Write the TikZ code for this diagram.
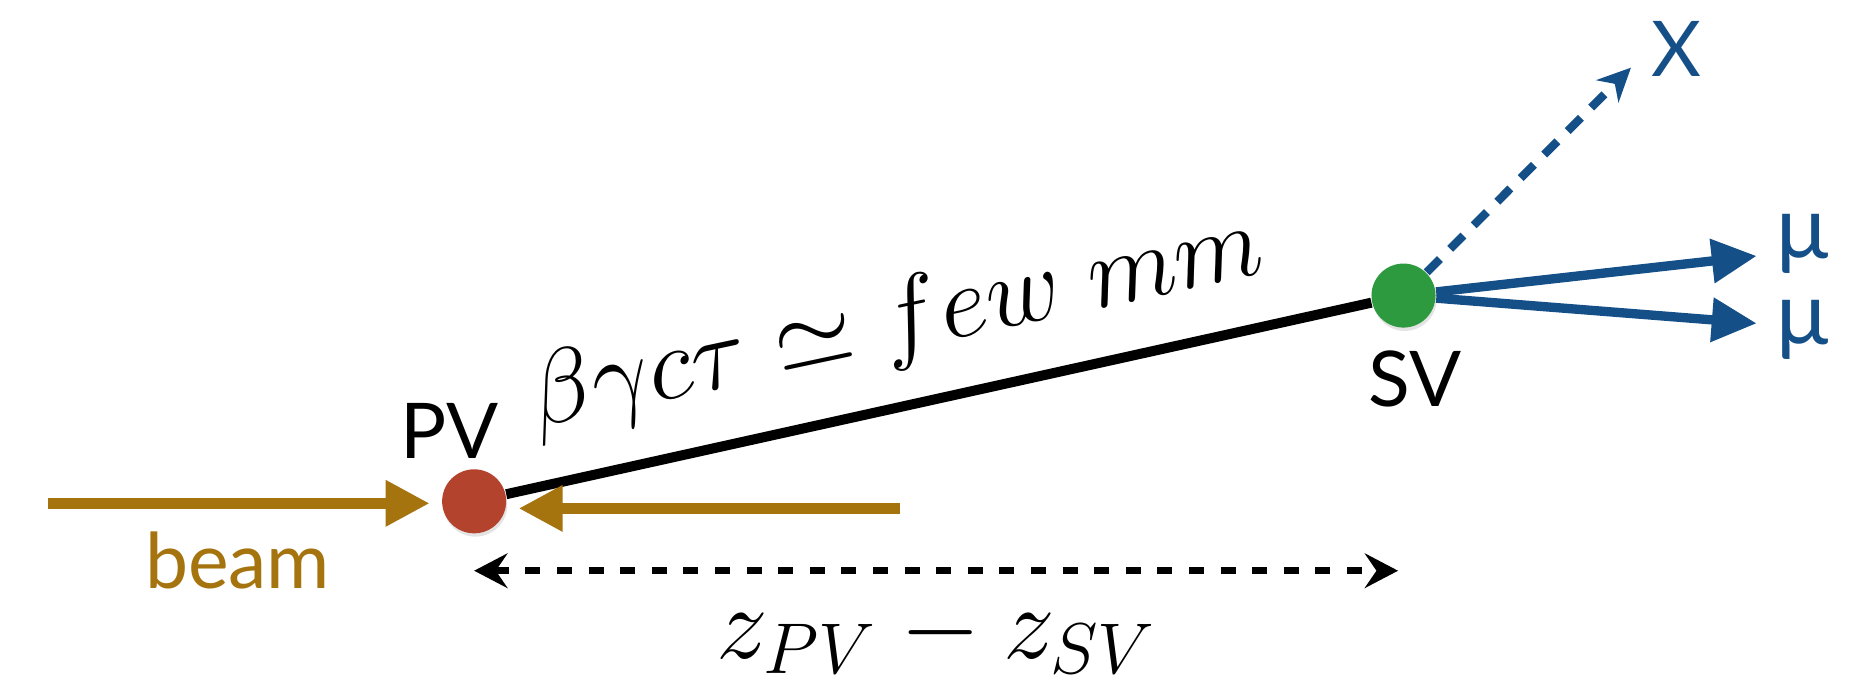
\documentclass[tikz,border=0pt]{standalone}
\usepackage{fontspec}
\setsansfont{Lato}
\usetikzlibrary{arrows.meta, positioning, shadows}
\definecolor{beamGold}{HTML}{A5740F}
\definecolor{pvRed}{HTML}{B4432E}
\definecolor{svGreen}{HTML}{2E9A3F}
\definecolor{decayBlue}{HTML}{154F88}

\tikzset{
  vtx/.style={circle, inner sep=0pt, minimum size=15.4pt,
    drop shadow={shadow xshift=0.3pt, shadow yshift=-0.8pt, fill=black!35, opacity=0.3}},
  lbl/.style={inner sep=0pt, anchor=base, font=\sffamily\fontsize{18.5}{22}\selectfont},
  beamarrow/.style={beamGold, line width=2.6pt, -{Triangle[length=10.6pt, width=10.5pt]}},
  muarrow/.style={decayBlue, line width=2.25pt, -{Triangle[length=10.8pt, width=10.2pt]}},
  xarrow/.style={decayBlue, line width=2pt, dash pattern=on 4.5pt off 3.5pt,
    -{Stealth[length=8pt, width=7.5pt, inset=2.5pt]}},
  zarrow/.style={line width=1.7pt, dash pattern=on 3.6pt off 4pt,
    {Stealth[length=8pt, width=8.3pt, inset=2.8pt]}-{Stealth[length=8pt, width=8.3pt, inset=2.8pt]}},
}

\begin{document}
\begin{tikzpicture}[x=0.01cm, y=-0.01cm]
  \useasboundingbox (0,0) rectangle (1568,571);

  % vertices
  \node[vtx, fill=pvRed] (pv) at (401,424) {};
  \node[vtx, fill=svGreen] (sv) at (1187,250) {};
  \node[lbl] (pvlabel) at (380,387.6) {PV};
  \node[lbl] (svlabel) at (1197,344) {SV};

  % flight path
  \draw[line width=2.4pt] (pv) -- (sv);
  \node[inner sep=0pt, anchor=base, rotate=12, font=\fontsize{23}{27}\selectfont]
    (flightlabel) at (763,296) {$\beta\gamma c\tau \simeq few\ mm$};

  % beams
  \coordinate (beamin) at (41,425.7);
  \coordinate (beamout) at (761,430);
  \draw[beamarrow, shorten >=2.8pt] (beamin) -- (pv.west |- beamin);
  \draw[beamarrow, shorten >=2.8pt] (beamout) -- (pv.east |- beamout);
  \node[lbl, beamGold] (beamlabel) at (201,497.6) {beam};

  % decay products
  \coordinate (xtip) at (1379.4,57.2);
  \coordinate (mutop) at (1485.7,216.5);
  \coordinate (mubot) at (1485.7,273.5);
  \draw[xarrow] (sv) -- (xtip);
  \draw[muarrow] (sv) -- (mutop);
  \draw[muarrow] (sv) -- (mubot);
  \node[lbl, decayBlue] (xlabel) at (1417.5,65) {X};
  \node[lbl, decayBlue, font=\sffamily\fontsize{21}{24}\selectfont] (mutoplabel) at (1524.5,218.5) {μ};
  \node[lbl, decayBlue, font=\sffamily\fontsize{21}{24}\selectfont] (mubotlabel) at (1524.5,291) {μ};

  % longitudinal distance
  \coordinate (zrow) at (0,482.7);
  \draw[zarrow, shorten >=1.3pt] (pv |- zrow) -- (sv |- zrow);
  \node[inner sep=0pt, anchor=base, font=\fontsize{25}{30}\selectfont]
    (zlabel) at (792,556.8) {$z_{PV} - z_{SV}$};
\end{tikzpicture}
\end{document}
